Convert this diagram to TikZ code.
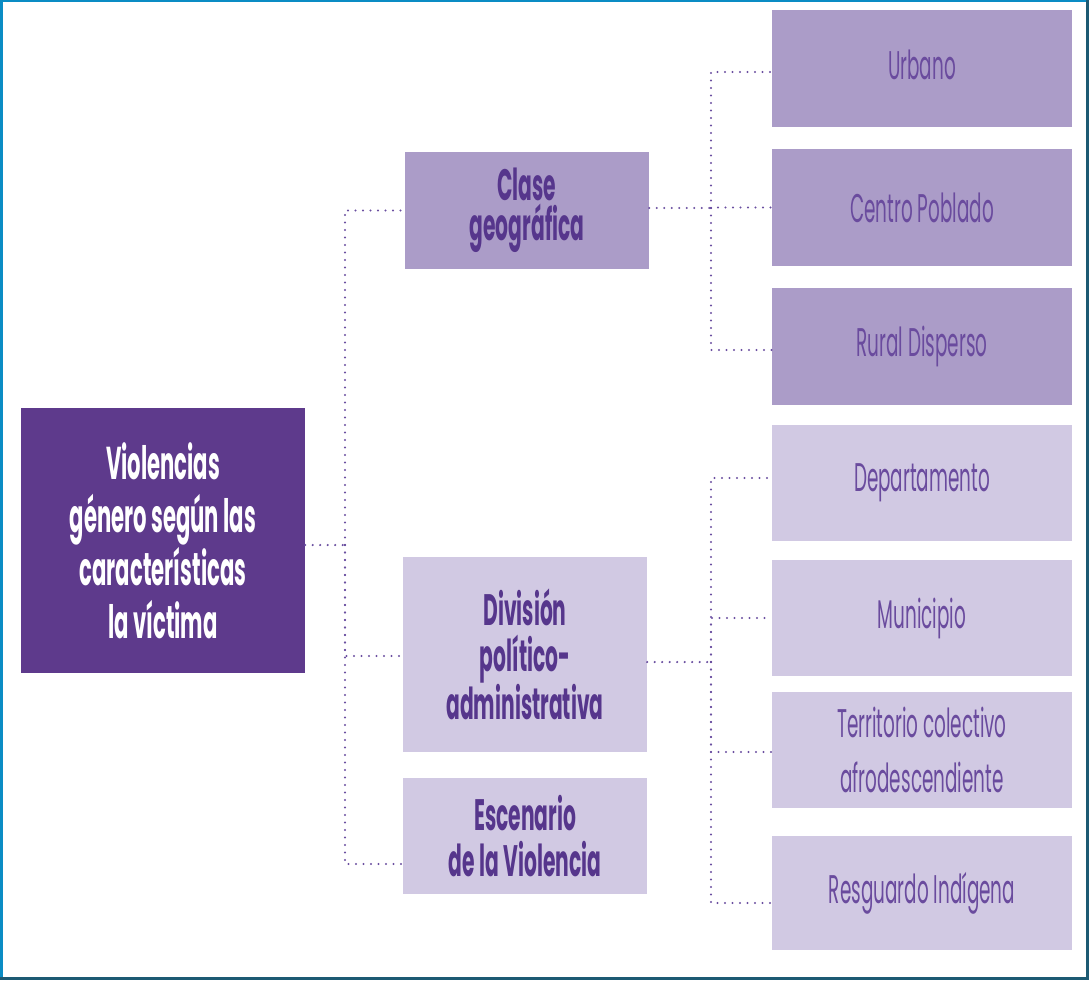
\documentclass[tikz,border=0pt]{standalone}
\usepackage{fontspec}
\newfontfamily\boxfont{Poppins}[FakeStretch=0.46]
\usetikzlibrary{positioning}
\usetikzlibrary{calc}

\definecolor{rootfill}{HTML}{5E3A8C}
\definecolor{midfill}{HTML}{AB9CC8}
\definecolor{lightfill}{HTML}{D1C9E3}
\definecolor{boxtext}{HTML}{56368C}
\definecolor{leaftext}{HTML}{6A4B9E}
\definecolor{dotline}{HTML}{6A4FA0}
\definecolor{frameblue}{HTML}{0A8CC4}
\definecolor{frameteal}{HTML}{1D5A73}

\begin{document}
\begin{tikzpicture}[x=1pt, y=-1pt,
  rootbox/.style={fill=rootfill, text=white, align=center, inner sep=0pt,
    font=\boxfont\bfseries\fontsize{46}{53}\selectfont},
  midbox/.style={text=boxtext, align=center, inner sep=0pt,
    font=\boxfont\bfseries\fontsize{44}{46}\selectfont},
  leafbox/.style={text=leaftext, align=center, inner sep=0pt, minimum width=300pt,
    font=\boxfont\fontsize{40}{55}\selectfont},
  dots/.style={dotline, line width=2.4pt, line cap=round, dash pattern=on 0pt off 7.5pt}]

  \useasboundingbox (0,0) rectangle (1089,980);

  % frame
  \fill[frameblue] (0,0) rectangle (1089,1.5);
  \fill[frameblue] (0,0) rectangle (3,980);
  \fill[frameteal] (1086,0) rectangle (1089,980);
  \fill[frameteal] (0,977) rectangle (1089,980);

  % root
  \node[rootbox, minimum width=284pt, minimum height=265pt] (root) at (163, 540.5)
    {Violencias\\género según las\\características\\la víctima};

  % second level
  \node[midbox, fill=midfill, minimum width=244pt, minimum height=117pt,
    font=\boxfont\bfseries\fontsize{44}{40}\selectfont] (clase) at (527, 210.5)
    {Clase\\geográfica};
  \node[midbox, fill=lightfill, minimum width=244pt, minimum height=195pt] (division) at (525, 654.5)
    {División\\político-\\administrativa};
  \node[midbox, fill=lightfill, minimum width=244pt, minimum height=116pt] (escenario) at (525, 836)
    {Escenario\\de la Violencia};

  % third level
  \node[leafbox, fill=midfill, minimum height=117pt] (urbano) at (922, 68.5) {\raisebox{8pt}{Urbano}};
  \node[leafbox, fill=midfill, minimum height=117pt] (centro) at (922, 207.5) {Centro Poblado};
  \node[leafbox, fill=midfill, minimum height=117pt] (rural) at (922, 346.5) {Rural Disperso};
  \node[leafbox, fill=lightfill, minimum height=116pt] (depto) at (922, 483) {Departamento};
  \node[leafbox, fill=lightfill, minimum height=116pt] (municipio) at (922, 618) {Municipio};
  \node[leafbox, fill=lightfill, minimum height=116pt] (territorio) at (922, 750)
    {Territorio colectivo\\afrodescendiente};
  \node[leafbox, fill=lightfill, minimum height=114pt] (resguardo) at (922, 893) {Resguardo Indígena};

  % connectors
  \coordinate (j1) at (345, 545);
  \coordinate (j2) at (711, 208);
  \coordinate (j3) at (711, 662);

  \draw[dots] ([yshift=-4.5pt]root.east) -- (j1);
  \draw[dots] (j1) |- (clase.west);
  \draw[dots] (j1) |- ([yshift=-1.5pt]division.west);
  \draw[dots] (j1) |- ([yshift=-28pt]escenario.west);

  \draw[dots] (clase.east |- j2) -- (j2);
  \draw[dots] (j2) |- ([yshift=-3.5pt]urbano.west);
  \draw[dots] (j2) |- (centro.west);
  \draw[dots] (j2) |- ([yshift=-3.5pt]rural.west);

  \draw[dots] (division.east |- j3) -- (j3);
  \draw[dots] (j3) |- ([yshift=5pt]depto.west);
  \draw[dots] (j3) |- (municipio.west);
  \draw[dots] (j3) |- ([yshift=-2pt]territorio.west);
  \draw[dots] (j3) |- ([yshift=-10pt]resguardo.west);

\end{tikzpicture}
\end{document}
